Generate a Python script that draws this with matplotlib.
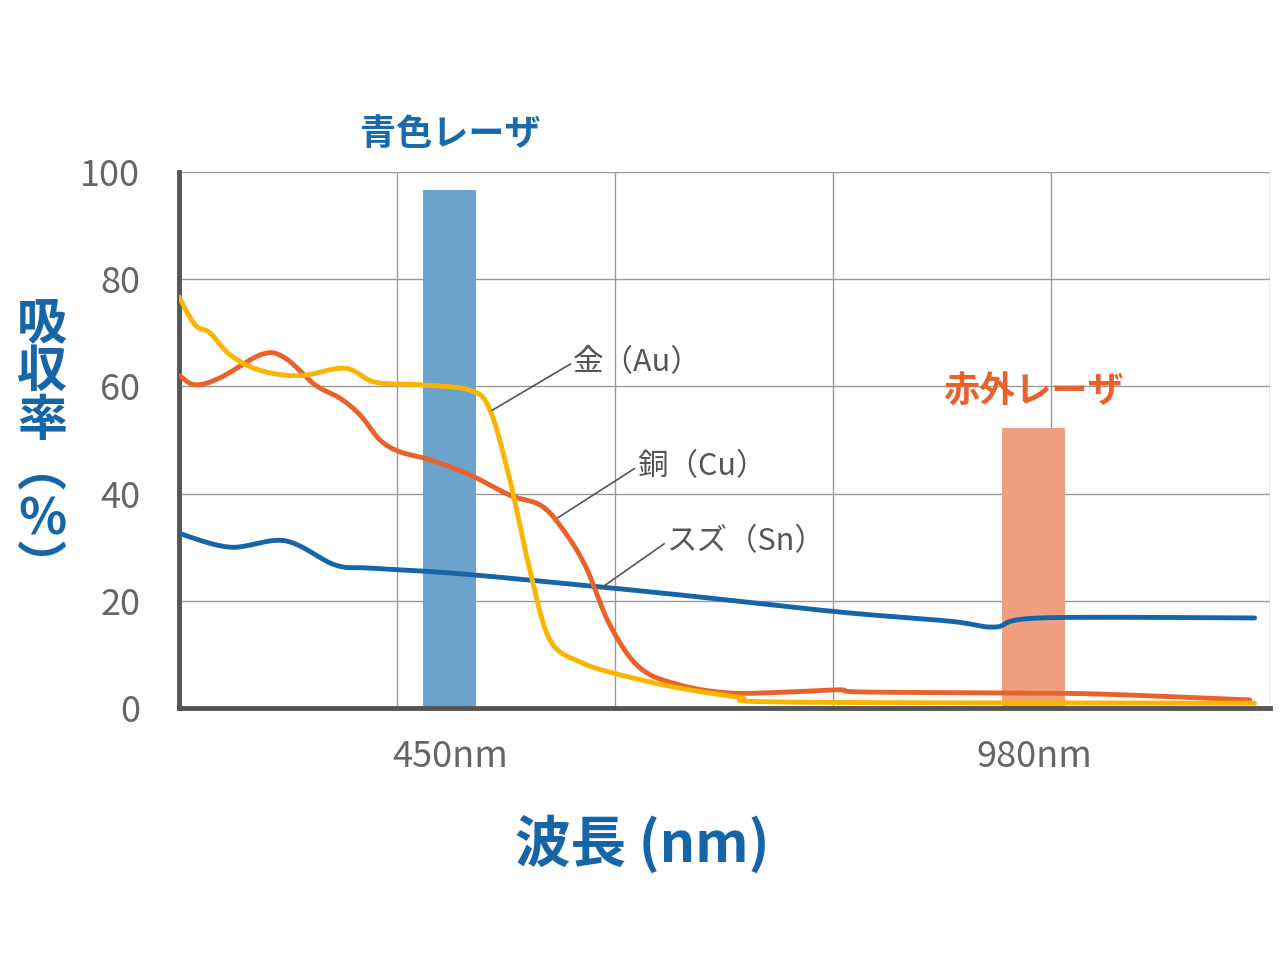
import numpy as np
import matplotlib
matplotlib.use("Agg")
import matplotlib.pyplot as plt

plt.rcParams['font.family'] = ['Noto Sans CJK JP', 'DejaVu Sans']

au_x = [204,218.6,232.2,250.4,277.6,313.9,354.7,381.9,422.8,468.1,486.3,504.5,522.6,540.8,568,604.3,658.8,713.2,758.6,1180.5]
au_y = [76.7,71.5,70,65.9,63,62,63.4,60.8,60.3,59.3,55.6,42.5,25.7,12.7,8.6,6.2,3.7,2,1.1,0.9]
cu_x = [204,218.6,241.3,279.4,300.3,327.5,350.2,368.3,386.5,404.6,431.9,468.1,504.5,531.7,549.8,572.5,595.2,622.4,658.7,704.1,758.5,803.9,822,949.1,1039.8,1176]
cu_y = [62.1,60.3,61.6,66,65.3,60.3,57.8,54.7,50,47.8,46.3,43.5,39.7,37.9,34.1,26.7,15.5,7.5,4.3,2.8,3.0,3.4,3.0,2.8,2.6,1.5]
sn_x = [204,250.4,300.3,345.6,377.4,450,540.7,658.7,803.9,903.7,944.6,985.4,1180.5]
sn_y = [32.6,30,31.2,26.7,26.1,25.2,23.5,21.1,17.9,16.2,15.1,16.8,16.8]
laser_x = [450, 980]
laser_h = [96.6, 52.2]
laser_w = [48, 57]
laser_names = ['青色レーザ', '赤外レーザ']
tick_labels = ['450nm', '980nm']

def smooth(x, y, n=20):
    x = np.asarray(x, float); y = np.asarray(y, float)
    P = np.column_stack([x, y])
    P = np.vstack([P[0], P, P[-1]])
    out = []
    for i in range(1, len(P) - 2):
        p0, p1, p2, p3 = P[i-1], P[i], P[i+1], P[i+2]
        for t in np.linspace(0, 1, n, endpoint=False):
            out.append(0.5 * ((2*p1) + (-p0+p2)*t + (2*p0-5*p1+4*p2-p3)*t**2 + (-p0+3*p1-3*p2+p3)*t**3))
    out.append(P[-2])
    out = np.array(out)
    return out[:, 0], out[:, 1]

fig = plt.figure(figsize=(12.8, 9.6), dpi=100)
ax = fig.add_axes([0.1398, 0.2625, 0.852, 0.5583])
ax.set_xlim(204, 1194)
ax.set_ylim(0, 100)

for g in [402, 600, 798, 996, 1194]:
    ax.axvline(g, color='#9a9a9a', lw=1, zorder=0)
for g in [20, 40, 60, 80, 100]:
    ax.axhline(g, color='#9a9a9a', lw=1, zorder=0)

ax.bar(laser_x, laser_h, width=laser_w, color=['#6ba3cc', '#f0a07e'], zorder=1)

for xs, ys, c in [(sn_x, sn_y, '#1565a8'), (cu_x, cu_y, '#e8622a'), (au_x, au_y, '#fbb400')]:
    sx, sy = smooth(xs, ys)
    ax.plot(sx, sy, color=c, lw=3.5, zorder=3, solid_capstyle='round')

for s in ['top', 'right']:
    ax.spines[s].set_visible(False)
for s in ['left', 'bottom']:
    ax.spines[s].set_linewidth(3.5)
    ax.spines[s].set_color('#555555')
ax.set_yticks([0, 20, 40, 60, 80, 100])
ax.tick_params(axis='y', length=0, labelsize=26, labelcolor='#666666', pad=28)
ax.set_xticks(laser_x)
ax.set_xticklabels(tick_labels)
ax.tick_params(axis='x', length=0, labelsize=26, labelcolor='#666666', pad=22)

ax.text(450, 103.5, laser_names[0], color='#1a6aaa', fontsize=26, fontweight='bold', ha='center', va='bottom')
ax.text(980, 55.5, laser_names[1], color='#e8622a', fontsize=26, fontweight='bold', ha='center', va='bottom')

def ann(txt, xy, xt):
    ax.annotate(txt, xy=xy, xytext=xt, color='#555555', fontsize=22, va='center', ha='left',
                arrowprops=dict(arrowstyle='-', color='#555555', lw=1.2, shrinkA=0, shrinkB=0,
                                relpos=(0, 0.5)))
ann('金（Au）', (488, 55.5), (562, 64.5))
ann('銅（Cu）', (548, 35.5), (620, 45))
ann('スズ（Sn）', (588, 22.5), (647, 31))

fig.text(0.033, 0.535, '吸\n収\n率\n︵\n%\n︶', color='#1565a8', fontsize=36, fontweight='bold',
         ha='center', va='center', linespacing=0.95)
fig.text(0.502, 0.12, '波長 (nm)', color='#1565a8', fontsize=40, fontweight='bold', ha='center', va='center')

fig.savefig('out.png', dpi=100)
